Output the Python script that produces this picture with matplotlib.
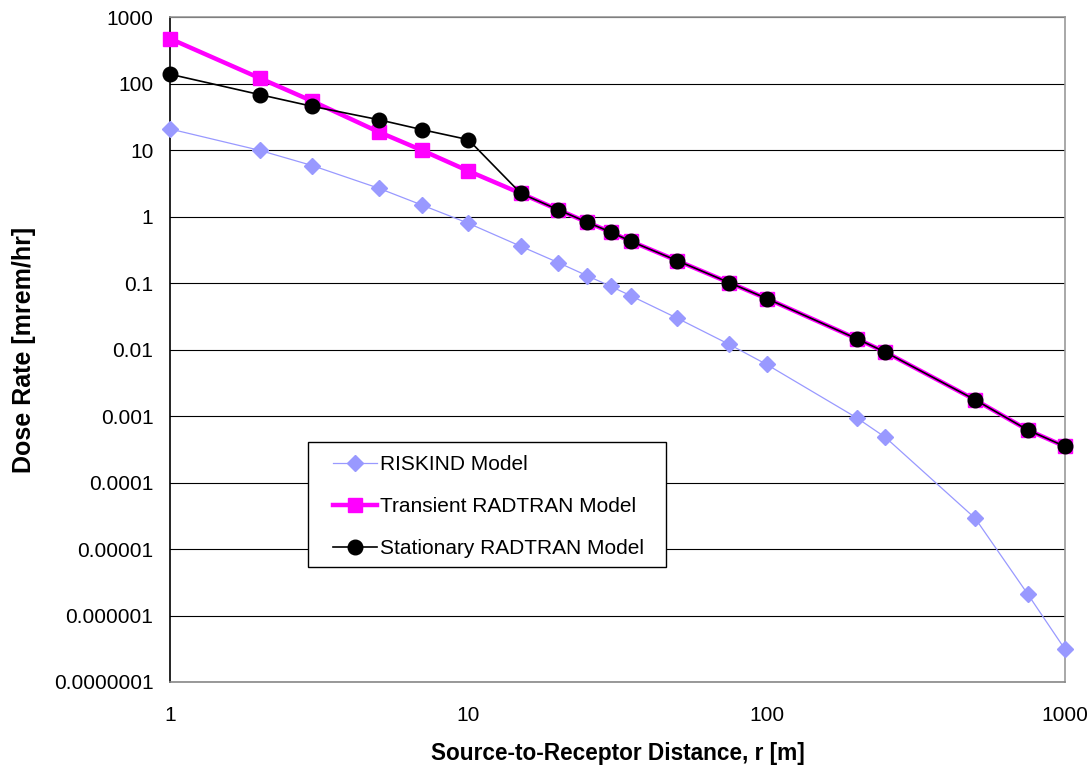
import matplotlib.pyplot as plt
from matplotlib.patches import Rectangle

plt.rcParams['font.family'] = ['Liberation Sans', 'DejaVu Sans']

# distance r [m]
distance = [1, 2, 3, 5, 7, 10, 15, 20, 25, 30, 35, 50, 75, 100, 200, 250, 500, 750, 1000]

# dose rate [mrem/hr]
riskind = [21, 10, 5.9, 2.7, 1.5, 0.8, 0.36, 0.205, 0.13, 0.09, 0.065, 0.030, 0.012,
           0.006, 0.00095, 0.00048, 0.000029, 0.0000021, 0.00000031]
transient = [480, 122, 55, 19, 10, 4.9, 2.25, 1.28, 0.83, 0.59, 0.43, 0.22, 0.102,
             0.059, 0.0147, 0.0092, 0.00176, 0.00062, 0.00035]
stationary = [140, 69, 46, 29, 20.5, 14.5, 2.25, 1.28, 0.83, 0.59, 0.43, 0.22, 0.102,
              0.059, 0.0147, 0.0092, 0.00176, 0.00062, 0.00035]

ytick_vals = [1000, 100, 10, 1, 0.1, 0.01, 0.001, 0.0001, 0.00001, 0.000001, 0.0000001]
ytick_labels = ["1000", "100", "10", "1", "0.1", "0.01", "0.001", "0.0001",
                "0.00001", "0.000001", "0.0000001"]
xtick_vals = [1, 10, 100, 1000]
xtick_labels = ["1", "10", "100", "1000"]

fig = plt.figure(figsize=(10.92, 7.7), dpi=100)
ax = fig.add_axes([0.1557, 0.1143, 0.8196, 0.863])

ax.set_xscale('log')
ax.set_yscale('log')
ax.set_xlim(1, 1000)
ax.set_ylim(1e-7, 1000)

# horizontal gridlines only
for v in ytick_vals:
    ax.axhline(v, color='black', lw=0.8, zorder=1)

ax.plot(distance, riskind, color='#9999FF', lw=0.9, marker='D', markersize=8.5,
        markeredgecolor='#9999FF', label='RISKIND Model', zorder=3, clip_on=False)
ax.plot(distance, transient, color='#FF00FF', lw=3.2, marker='s', markersize=10,
        markeredgecolor='#FF00FF', label='Transient RADTRAN Model', zorder=4, clip_on=False)
ax.plot(distance, stationary, color='black', lw=1.2, marker='o', markersize=10.5,
        label='Stationary RADTRAN Model', zorder=5, clip_on=False)

ax.set_yticks(ytick_vals)
ax.set_yticklabels(ytick_labels)
ax.set_xticks(xtick_vals)
ax.set_xticklabels(xtick_labels)
ax.minorticks_off()
ax.tick_params(axis='both', length=0, labelsize=15)
ax.tick_params(axis='y', pad=12)
ax.tick_params(axis='x', pad=17)

for s in ['top', 'right']:
    ax.spines[s].set_color('#999999')
ax.spines['bottom'].set_color('#888888')
ax.spines['left'].set_color('black')
for s in ax.spines.values():
    s.set_linewidth(1.2)

ax.set_xlabel('Source-to-Receptor Distance, r [m]', fontsize=16.3, fontweight='bold')
ax.set_ylabel('Dose Rate [mrem/hr]', fontsize=18, fontweight='bold')
ax.xaxis.set_label_coords(0.5, -0.091)
ax.yaxis.set_label_coords(-0.150, 0.5)

# legend box drawn separately so the entries can sit with extra left padding
box = Rectangle((0.1539, 0.1736), 0.4001, 0.1883, transform=ax.transAxes,
                facecolor='white', edgecolor='black', lw=1.0, zorder=9)
ax.add_patch(box)
leg = ax.legend(loc='upper left', bbox_to_anchor=(0.182, 0.341), frameon=False,
                fontsize=15, handlelength=2.1, handletextpad=0.15, labelspacing=1.1,
                borderpad=0, borderaxespad=0)
leg.set_zorder(10)

fig.savefig('out.png', dpi=100)
